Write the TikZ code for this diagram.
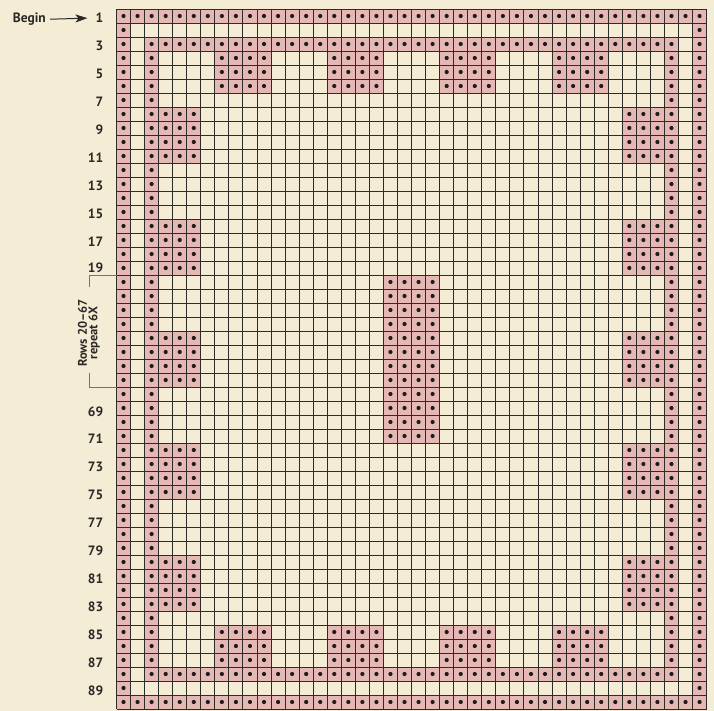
\documentclass[tikz,border=0pt]{standalone}
\usepackage{fontspec}
\setmainfont{PT Sans}
\usetikzlibrary{arrows.meta}
\definecolor{bgc}{HTML}{F5ECD5}
\definecolor{pinkc}{HTML}{E5B8B5}
\definecolor{gridc}{HTML}{2E2C28}
\definecolor{dotc}{HTML}{1E1C1A}
\definecolor{brc}{HTML}{77736A}
\definecolor{txtc}{HTML}{2A2826}
\tikzset{
  gridline/.style={draw=gridc,line width=0.95pt},
  lab/.style={inner sep=0pt,text=txtc,font=\bfseries\fontsize{13.5}{13.5}\selectfont},
  brk/.style={draw=brc,line width=1pt},
  arr/.style={draw=txtc,line width=1pt,-{Stealth[length=12pt,width=8pt,inset=3pt]}},
}
\newcommand\pinkrect[4]{%
  \fill[pinkc] ({116.5+(#1-1)*14.05},{9+(#2-1)*14}) rectangle ({116.5+#3*14.05},{9+#4*14});
  \foreach \cc in {#1,...,#3}{\foreach \rr in {#2,...,#4}{%
    \fill[dotc] ({116.5+(\cc-0.5)*14.05},{9+(\rr-0.5)*14}) circle[radius=2.1pt];}}}
\begin{document}
\begin{tikzpicture}[x=1pt,y=-1pt]
\useasboundingbox (0,0) rectangle (714,711);
\fill[bgc] (0,0) rectangle (714,711);
% outer ring
\pinkrect{1}{1}{42}{1}
\pinkrect{1}{50}{42}{50}
\pinkrect{1}{2}{1}{49}
\pinkrect{42}{2}{42}{49}
% inner ring
\pinkrect{3}{3}{40}{3}
\pinkrect{3}{48}{40}{48}
\pinkrect{3}{4}{3}{47}
\pinkrect{40}{4}{40}{47}
% top and bottom blocks
\foreach \a in {8,16,24,32}{%
  \pinkrect{\a}{4}{\the\numexpr\a+3\relax}{6}
  \pinkrect{\a}{45}{\the\numexpr\a+3\relax}{47}}
% side blocks
\foreach \b in {8,16,24,32,40}{%
  \pinkrect{4}{\b}{6}{\the\numexpr\b+3\relax}
  \pinkrect{37}{\b}{39}{\the\numexpr\b+3\relax}}
% centre block
\pinkrect{20}{20}{23}{31}
% grid
\foreach \i in {0,...,42}{\draw[gridline] ({116.5+\i*14.05},9) -- ({116.5+\i*14.05},709);}
\foreach \j in {0,...,50}{\draw[gridline] (116.5,{9+\j*14}) -- (706.6,{9+\j*14});}
% row labels
\foreach \v/\t/\o in {1/1/6.7,3/3/6.7,5/5/6.7,7/7/6.7,9/9/6.7,11/11/6.7,13/13/7,15/15/7,17/17/6.5,19/19/4.5,29/69/8,31/71/7.5,33/73/7,35/75/7,37/77/7,39/79/7,41/81/7,43/83/7.5,45/85/7,47/87/7,49/89/7}{%
  \node[lab,anchor=base east] (lab\t) at (103.5,{9+(\v-0.5)*14+\o}) {\t};}
\node[lab,anchor=base east] (begin) at (46,{16+6.7}) {Begin};
\draw[arr,shorten <=4pt,shorten >=8pt] (begin.east) -- (lab1.west);
% bracket
\node[lab,rotate=90,align=center,font=\bfseries\fontsize{12.5}{10.5}\selectfont] (rep) at (89,333) {Rows 20–67\\repeat 6X};
\draw[brk] (116.5,275) -- (89.5,275) -- (89.5,287);
\draw[brk] (89.5,373) -- (89.5,387) -- (116.5,387);
\end{tikzpicture}
\end{document}
